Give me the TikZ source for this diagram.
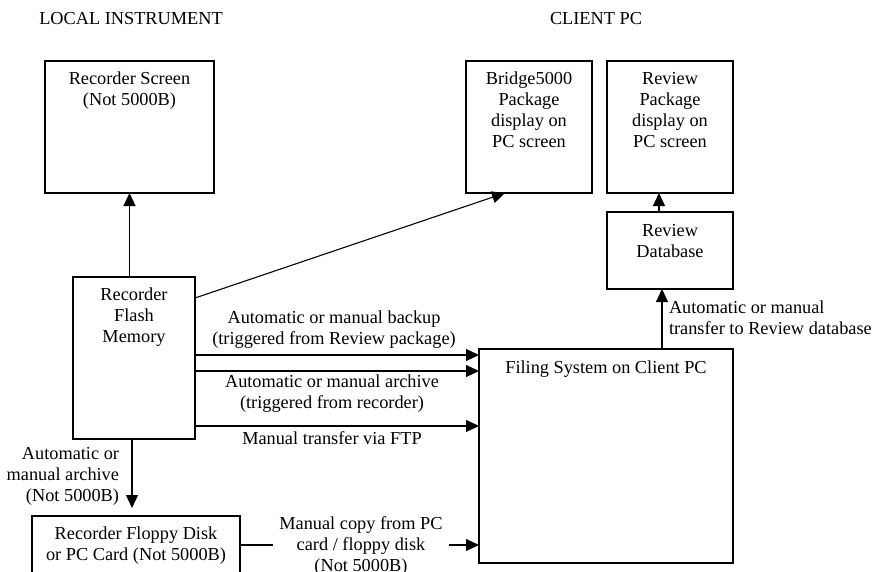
\documentclass[tikz,border=0pt]{standalone}
\usepackage{fontspec}
\setmainfont{Liberation Serif}
\usetikzlibrary{arrows.meta,calc}
\begin{document}
\begin{tikzpicture}[x=1pt,y=-1pt,
  every node/.style={font=\fontsize{18.3}{21}\selectfont, inner sep=0pt, outer sep=0pt},
  box/.style={draw, line width=1.3pt, rectangle, anchor=north west},
  txt/.style={align=center, anchor=north},
  lbl/.style={align=center},
  arr/.style={-{Triangle[length=13pt,width=12pt]}, line width=1.1pt},
  ln/.style={line width=1.1pt}]
\clip (0,0) rectangle (872,572);
\useasboundingbox (0,0) rectangle (872,572);

% column headings
\node (hlocal) at (131,19) {LOCAL INSTRUMENT};
\node (hclient) at (596,19) {CLIENT PC};

% boxes
\node[box, minimum width=169pt, minimum height=132pt] (screen) at (45,61) {};
\node[box, minimum width=126pt, minimum height=132pt] (bridge) at (466,61) {};
\node[box, minimum width=126pt, minimum height=132pt] (review) at (607,61) {};
\node[box, minimum width=126pt, minimum height=77pt] (db) at (607,212) {};
\node[box, minimum width=122pt, minimum height=162pt] (flash) at (73,277) {};
\node[box, minimum width=254pt, minimum height=214pt] (filing) at (479,349) {};
\node[box, minimum width=208pt, minimum height=80pt] (floppy) at (32,516) {};

% box texts
\node[txt] (screent) at ($(screen.north)+(0,11)$) {Recorder Screen\\(Not 5000B)};
\node[txt] (bridget) at ($(bridge.north)+(0,11)$) {Bridge5000\\Package\\display on\\PC screen};
\node[txt] (reviewt) at ($(review.north)+(0,11)$) {Review\\Package\\display on\\PC screen};
\node[txt] (dbt) at ($(db.north)+(0,12)$) {Review\\Database};
\node[txt] (flasht) at ($(flash.north)+(0,11)$) {Recorder\\Flash\\Memory};
\node[txt] (filingt) at ($(filing.north)+(0,12)$) {Filing System on Client PC};
\node[txt] (floppyt) at ($(floppy.north)+(0,11)$) {Recorder Floppy Disk\\or PC Card (Not 5000B)};

% connectors
\draw[arr] (flash.north -| screen.south) -- (screen.south);
\draw[arr] ($(flash.north east)+(0,21)$) -- ($(bridge.south west)+(39,0)$);
\draw[arr] (db.north -| 659,0) -- (review.south -| 659,0);
\draw[arr] (filing.north -| 662,0) -- (db.south -| 662,0);

\draw[arr] (flash.east |- 0,355) -- (filing.west |- 0,355);
\draw[arr] (flash.east |- 0,371) -- (filing.west |- 0,371);
\draw[arr] (flash.east |- 0,426) -- (filing.west |- 0,426);

\coordinate (fltip) at (132,508);
\draw[arr] (flash.south -| fltip) -- (fltip);

% connector labels
\node[lbl] (lbackup) at (334,330) {Automatic or manual backup\\(triggered from Review package)};
\node[lbl] (larchive) at (332,394) {Automatic or manual archive\\(triggered from recorder)};
\node[lbl] (lftp) at (332,438) {Manual transfer via FTP};
\node[align=right, anchor=east] (ldown) at (119,476) {Automatic or\\manual archive\\(Not 5000B)};
\node[align=left, anchor=west] (ldb) at (669,318) {Automatic or manual\\transfer to Review database};
\node[lbl, inner xsep=6pt] (lcopy) at (361,546) {Manual copy from PC\\card / floppy disk\\(Not 5000B)};

\draw[ln] (floppy.east |- 0,545) -- (lcopy.west |- 0,545);
\draw[arr] (lcopy.east |- 0,545) -- (filing.west |- 0,545);
\end{tikzpicture}
\end{document}
